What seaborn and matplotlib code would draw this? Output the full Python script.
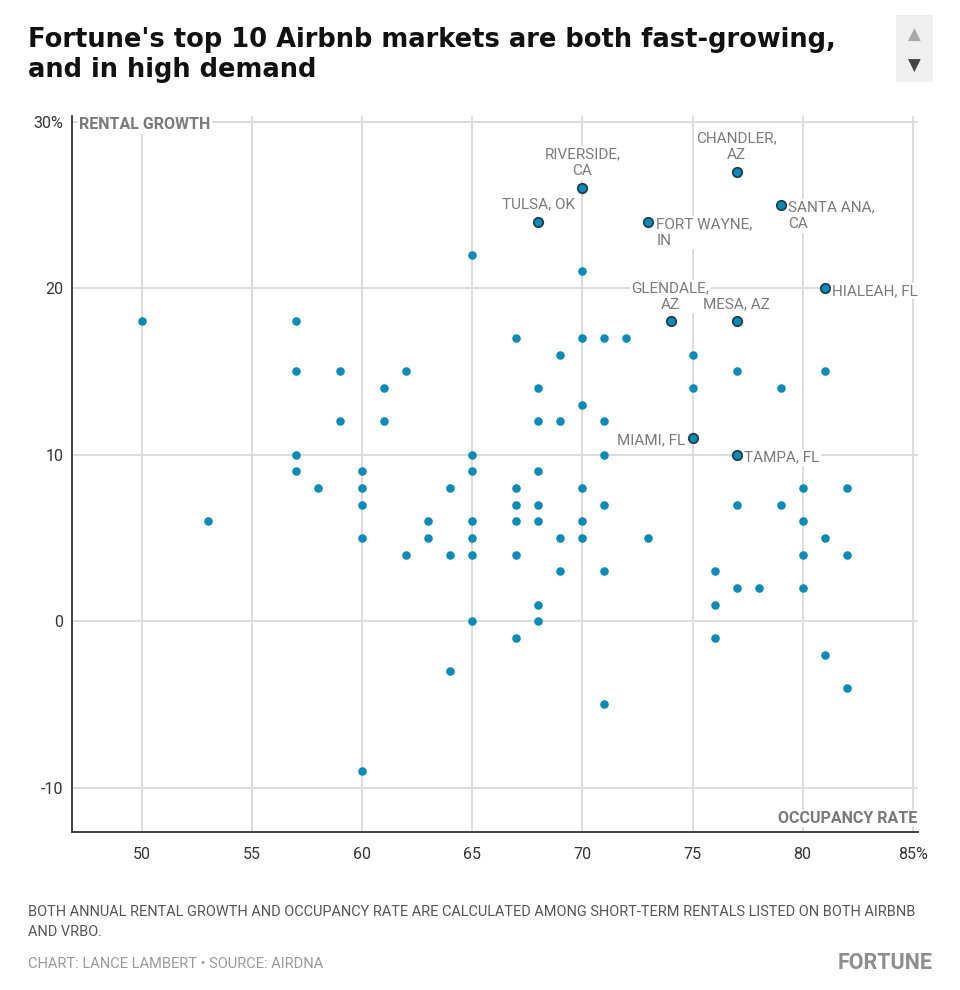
import numpy as np
import pandas as pd
import matplotlib
matplotlib.use("Agg")
import matplotlib.pyplot as plt
import seaborn as sns
from matplotlib.patches import Rectangle

# occupancy rate (%) and annual rental growth (%) for the other markets
occupancy = [50, 57, 57, 59, 62, 61, 59, 61, 57, 65, 57, 60, 65, 58, 60, 64, 65,
             60, 53, 60, 63, 63, 62, 64, 65, 65, 65, 65, 64, 60,
             70, 67, 70, 71, 72, 69, 75, 77, 81, 68, 75, 79, 70, 68, 69, 71,
             71, 68, 67, 70, 80, 82,
             67, 68, 71, 77, 79, 67, 68, 70, 80, 69, 70, 73, 81, 67, 80, 82,
             69, 71, 76, 77, 78, 80, 68, 76, 68, 67, 76, 81, 82, 71]
growth = [18, 18, 15, 15, 15, 14, 12, 12, 10, 10, 9, 9, 9, 8, 8, 8, 22,
          7, 6, 5, 6, 5, 4, 4, 4, 6, 5, 0, -3, -9,
          21, 17, 17, 17, 17, 16, 16, 15, 15, 14, 14, 14, 13, 12, 12, 12,
          10, 9, 8, 8, 8, 8,
          7, 7, 7, 7, 7, 6, 6, 6, 6, 5, 5, 5, 5, 4, 4, 4,
          3, 3, 3, 2, 2, 2, 1, 1, 0, -1, -1, -2, -4, -5]

# Fortune's top 10 markets
top_names = ["RIVERSIDE,\nCA", "CHANDLER,\nAZ", "TULSA, OK", "FORT WAYNE,\nIN",
             "SANTA ANA,\nCA", "HIALEAH, FL", "GLENDALE,\nAZ", "MESA, AZ",
             "MIAMI, FL", "TAMPA, FL"]
top_occupancy = [70, 77, 68, 73, 79, 81, 74, 77, 75, 77]
top_growth = [26, 27, 24, 24, 25, 20, 18, 18, 11, 10]
# where each label sits relative to its dot
top_place = ["above", "above", "above", "right", "right", "right",
             "above", "above", "left", "right"]

x_ticks = [50, 55, 60, 65, 70, 75, 80, 85]
x_ticklabels = ["50", "55", "60", "65", "70", "75", "80", "85%"]
y_ticks = [30, 20, 10, 0, -10]
y_ticklabels = ["30%", "20", "10", "0", "-10"]

BLUE = "#0b8bb6"
GRID = "#dcdcdc"
LABEL = "#7a7a7a"
FONT = "Roboto"

others = pd.DataFrame({"occupancy": occupancy, "growth": growth})
top = pd.DataFrame({"name": top_names, "occupancy": top_occupancy,
                    "growth": top_growth, "place": top_place})

sns.set_style("white")
plt.rcParams["font.family"] = [FONT, "DejaVu Sans"]

fig = plt.figure(figsize=(9.6, 9.9), dpi=100)
ax = fig.add_axes([0.0747, 0.1599, 0.8815, 0.723])

sns.scatterplot(data=others, x="occupancy", y="growth", ax=ax, color=BLUE,
                s=38, linewidth=0, zorder=3)
sns.scatterplot(data=top, x="occupancy", y="growth", ax=ax, color=BLUE,
                s=46, edgecolor="#1f3f4c", linewidth=1.3, zorder=4)

ax.set_xlim(46.8, 85.24)
ax.set_ylim(-12.64, 30.34)
ax.set_xticks(x_ticks)
ax.set_xticklabels(x_ticklabels)
ax.set_yticks(y_ticks)
ax.set_yticklabels(y_ticklabels)
ax.set_xlabel("")
ax.set_ylabel("")
ax.grid(True, color=GRID, linewidth=1.4, zorder=0)
ax.set_axisbelow(True)
ax.tick_params(axis="both", length=0, labelsize=11.5, labelcolor="#333333")
ax.tick_params(axis="x", pad=11)
ax.tick_params(axis="y", pad=6)
for side in ["top", "right"]:
    ax.spines[side].set_visible(False)
for side in ["left", "bottom"]:
    ax.spines[side].set_color("#333333")
    ax.spines[side].set_linewidth(1.3)

halo = dict(facecolor="white", edgecolor="none", pad=1.0)

ax.text(47.15, 29.8, "RENTAL GROWTH", fontsize=11.5, fontweight="bold",
        color=LABEL, ha="left", va="center", bbox=halo, zorder=5)
ax.text(85.2, -11.85, "OCCUPANCY RATE", fontsize=11.5, fontweight="bold",
        color=LABEL, ha="right", va="center", bbox=halo, zorder=5)

for _, row in top.iterrows():
    x, y = row["occupancy"], row["growth"]
    if row["place"] == "above":
        ax.annotate(row["name"], (x, y), xytext=(0, 7), textcoords="offset points",
                    ha="center", va="bottom", fontsize=11, color=LABEL,
                    linespacing=1.25, bbox=halo, zorder=5)
    elif row["place"] == "right":
        ax.annotate(row["name"], (x, y), xytext=(5.5, 3), textcoords="offset points",
                    ha="left", va="top", fontsize=11, color=LABEL,
                    linespacing=1.25, bbox=halo, zorder=5)
    else:
        ax.annotate(row["name"], (x, y), xytext=(-5.5, -2), textcoords="offset points",
                    ha="right", va="center", fontsize=11, color=LABEL,
                    linespacing=1.25, bbox=halo, zorder=5)

fig.text(28 / 960, 1 - 77 / 990,
         "Fortune's top 10 Airbnb markets are both fast-growing,\nand in high demand",
         fontsize=18.5, fontweight="bold", color="#111111", ha="left",
         va="baseline", linespacing=1.2, family="DejaVu Sans")

# little scroll box in the top right corner
fig.patches.append(Rectangle((896 / 960, 1 - 82 / 990), 37 / 960, 67 / 990,
                             transform=fig.transFigure, facecolor="#efefef",
                             edgecolor="none"))
fig.text(914 / 960, 1 - 35 / 990, "\u25b2", fontsize=12, color="#a8a8a8",
         ha="center", va="center", family="DejaVu Sans")
fig.text(914 / 960, 1 - 66 / 990, "\u25bc", fontsize=12, color="#444444",
         ha="center", va="center", family="DejaVu Sans")

fig.text(28 / 960, 1 - 922 / 990,
         "BOTH ANNUAL RENTAL GROWTH AND OCCUPANCY RATE ARE CALCULATED AMONG "
         "SHORT-TERM RENTALS LISTED ON BOTH AIRBNB\nAND VRBO.",
         fontsize=10.45, color="#555555", ha="left", va="center", linespacing=1.5)
fig.text(28 / 960, 1 - 964 / 990, "CHART: LANCE LAMBERT \u2022 SOURCE: AIRDNA",
         fontsize=10.5, color="#9a9a9a", ha="left", va="center")
fig.text(933 / 960, 1 - 963 / 990, "FORTUNE", fontsize=15.5, fontweight="bold",
         color="#8e8e8e", ha="right", va="center")

fig.savefig("out.png", dpi=100, facecolor="white")
